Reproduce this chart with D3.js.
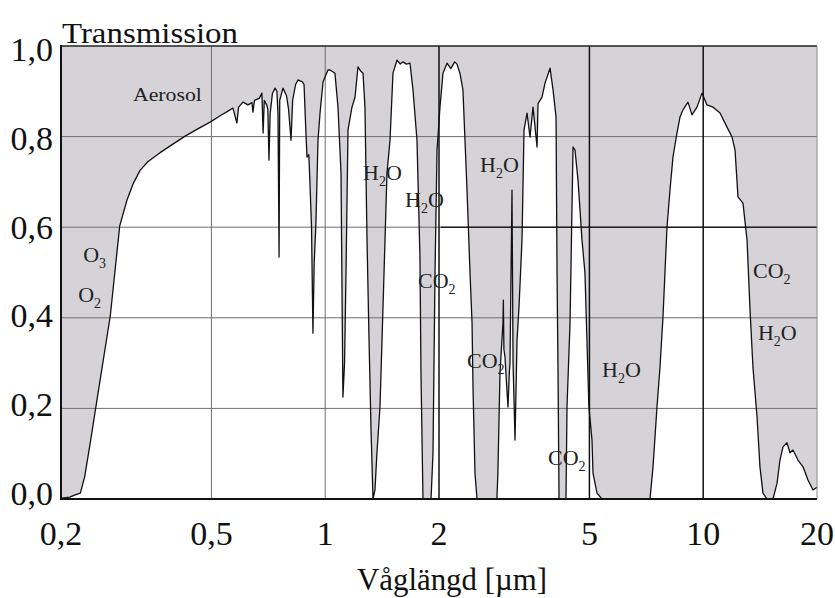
<!DOCTYPE html>
<html>
<head>
<meta charset="utf-8">
<script src="https://cdn.jsdelivr.net/npm/d3@7"></script>
<style>
  html, body { margin: 0; padding: 0; background: #ffffff; }
  svg { display: block; }
  text { font-family: "Liberation Serif", "Times New Roman", Times, serif; }
</style>
</head>
<body>
<svg id="chart" width="835" height="598"></svg>
<script>
// ---------- data ----------
const wavelength = [
  0.200, 0.201, 0.211, 0.218, 0.225, 0.231, 0.239, 0.249, 0.270, 0.286, 0.299, 0.310, 0.324, 0.340, 0.365,
  0.390, 0.426, 0.460, 0.496, 0.530,
  0.560, 0.570, 0.584, 0.590, 0.606, 0.625, 0.640, 0.644, 0.650, 0.670, 0.680, 0.685, 0.690, 0.700, 0.705,
  0.710, 0.715, 0.725, 0.737, 0.745, 0.750, 0.755, 0.758, 0.773, 0.790, 0.800, 0.812, 0.820, 0.835, 0.847,
  0.870, 0.879, 0.890, 0.895, 0.905, 0.911, 0.920, 0.928, 0.935, 0.945, 0.957, 0.969, 0.987, 1.017, 1.030,
  1.061, 1.081, 1.101, 1.114, 1.125, 1.135, 1.149, 1.177, 1.199, 1.221, 1.240, 1.259, 1.274, 1.290, 1.306,
  1.322, 1.338, 1.354, 1.370, 1.396, 1.422, 1.457, 1.484, 1.511, 1.549, 1.580, 1.606, 1.640, 1.676, 1.707,
  1.749, 1.781, 1.792, 1.814, 1.905, 1.928, 1.952, 1.976, 2.012, 2.049, 2.100, 2.150, 2.200, 2.232, 2.272,
  2.314, 2.372, 2.416, 2.446, 2.461, 2.490, 2.521, 2.846, 2.863, 2.900, 2.953, 2.960, 2.970, 2.990, 3.020,
  3.045, 3.070, 3.082, 3.120, 3.140, 3.178, 3.217, 3.256, 3.316, 3.357, 3.419, 3.482, 3.546, 3.634, 3.656,
  3.746, 3.815, 3.934, 4.006, 4.080, 4.105, 4.130, 4.155, 4.335, 4.362, 4.443, 4.525, 4.580, 4.664, 4.779,
  4.866, 4.925, 4.985, 5.079, 5.110, 5.236, 5.398, 7.232, 7.365, 7.546, 7.685, 7.827, 8.020, 8.168, 8.318,
  8.524, 8.681, 8.840, 9.114, 9.339, 9.627, 9.926, 10.23, 10.62, 11.08, 11.56, 11.92, 12.14, 12.36, 12.74,
  13.06, 13.30, 13.54, 13.88, 14.13, 14.39, 14.75, 15.30, 15.68, 15.96, 16.26, 16.66, 16.97, 17.28, 17.81,
  18.37, 18.93, 19.52, 20.00
];
const transmission = [
  0.000, 0.002, 0.004, 0.009, 0.013, 0.049, 0.124, 0.219, 0.404, 0.603, 0.660, 0.695, 0.726, 0.745, 0.764,
  0.780, 0.801, 0.817, 0.832, 0.847,
  0.859, 0.863, 0.830, 0.865, 0.876, 0.870, 0.875, 0.854, 0.880, 0.885, 0.896, 0.808, 0.880, 0.870, 0.860,
  0.748, 0.850, 0.895, 0.907, 0.900, 0.850, 0.534, 0.880, 0.907, 0.890, 0.860, 0.792, 0.880, 0.915, 0.925,
  0.921, 0.915, 0.800, 0.755, 0.760, 0.700, 0.600, 0.366, 0.520, 0.609, 0.792, 0.852, 0.921, 0.947, 0.947,
  0.940, 0.865, 0.720, 0.225, 0.300, 0.499, 0.815, 0.865, 0.887, 0.954, 0.945, 0.940, 0.865, 0.572, 0.351,
  0.152, 0.000, 0.020, 0.100, 0.203, 0.424, 0.720, 0.792, 0.940, 0.969, 0.960, 0.965, 0.960, 0.962, 0.903,
  0.792, 0.534, 0.278, 0.000, 0.000, 0.100, 0.499, 0.770, 0.865, 0.940, 0.962, 0.950, 0.965, 0.960, 0.940,
  0.903, 0.682, 0.499, 0.389, 0.241, 0.057, 0.000, 0.000, 0.057, 0.278, 0.389, 0.439, 0.330, 0.313, 0.250,
  0.203, 0.280, 0.300, 0.682, 0.300, 0.130, 0.351, 0.424, 0.572, 0.815, 0.852, 0.799, 0.865, 0.777, 0.873,
  0.887, 0.918, 0.951, 0.903, 0.843, 0.499, 0.278, 0.000, 0.000, 0.203, 0.389, 0.777, 0.770, 0.704, 0.572,
  0.499, 0.351, 0.203, 0.130, 0.057, 0.013, 0.000, 0.000, 0.071, 0.203, 0.291, 0.402, 0.600, 0.682, 0.755,
  0.808, 0.843, 0.859, 0.876, 0.848, 0.865, 0.896, 0.870, 0.865, 0.852, 0.821, 0.799, 0.770, 0.667, 0.653,
  0.572, 0.417, 0.291, 0.181, 0.071, 0.013, 0.000, 0.000, 0.035, 0.086, 0.115, 0.124, 0.102, 0.108, 0.086,
  0.071, 0.042, 0.020, 0.026
];
const xTicks = [0.2, 0.5, 1, 2, 5, 10, 20];
const yTicks = [0, 0.2, 0.4, 0.6, 0.8, 1.0];
const gasNames = ["Aerosol", "O3", "O2", "H2O", "H2O", "H2O", "CO2", "CO2", "CO2", "H2O", "CO2", "H2O"];
const gasWavelength = [0.310, 0.229, 0.222, 1.259, 1.626, 2.568, 1.760, 2.372, 3.886, 5.398, 13.54, 13.96];
const gasTransmission = [0.879, 0.523, 0.435, 0.704, 0.645, 0.722, 0.466, 0.289, 0.075, 0.269, 0.488, 0.351];
const titleText = "Transmission";
const xLabelText = "Våglängd [µm]";

// ---------- layout ----------
const svg = d3.select("#chart");
const mLeft = 61, mRight = 817, mTop = 46, mBottom = 499;
const x = d3.scaleLog().domain([0.2, 20]).range([mLeft, mRight]);
const y = d3.scaleLinear().domain([0, 1]).range([mBottom, mTop]);
// tick labels of the original sit on a slightly compressed scale
const yLab = d3.scaleLinear().domain([0, 1]).range([505, 61]);
const comma = d => d3.format(".1f")(d).replace(".", ",");
const xFmt = d => (d < 1 ? comma(d) : String(d));

const pts = wavelength.map((w, i) => [w, transmission[i]]);

// gray background of plot (absorbed part)
svg.append("rect")
  .attr("x", mLeft).attr("y", y(1))
  .attr("width", mRight - mLeft).attr("height", mBottom - y(1))
  .attr("fill", "#d5d3d8");

// white transmitted area
const area = d3.area().x(d => x(d[0])).y0(y(0)).y1(d => y(d[1]));
svg.append("path").datum(pts).attr("d", area).attr("fill", "#ffffff");

// grid lines
const gridY = svg.append("g");
gridY.selectAll("line").data(yTicks.filter(v => v > 0 && v < 1)).join("line")
  .attr("x1", mLeft).attr("x2", mRight)
  .attr("y1", d => y(d)).attr("y2", d => y(d))
  .attr("stroke", "#6e6e6e").attr("stroke-width", 1);
// darker part of the 0.6 line
svg.append("line")
  .attr("x1", x(2.02)).attr("x2", mRight)
  .attr("y1", y(0.6)).attr("y2", y(0.6))
  .attr("stroke", "#222").attr("stroke-width", 1.6);

const gridX = svg.append("g");
gridX.selectAll("line").data(xTicks.filter(v => v > 0.2 && v < 20)).join("line")
  .attr("x1", d => x(d)).attr("x2", d => x(d))
  .attr("y1", y(1)).attr("y2", y(0))
  .attr("stroke", d => d >= 2 ? "#111" : "#6e6e6e")
  .attr("stroke-width", d => d >= 2 ? 1.5 : 1);

// the curve
const line = d3.line().x(d => x(d[0])).y(d => y(d[1]));
svg.append("path").datum(pts).attr("d", line)
  .attr("fill", "none").attr("stroke", "#111").attr("stroke-width", 1.3)
  .attr("stroke-linejoin", "round");

// frame
svg.append("line").attr("x1", mLeft).attr("x2", mRight).attr("y1", y(1)).attr("y2", y(1))
  .attr("stroke", "#222").attr("stroke-width", 1.5);
svg.append("line").attr("x1", mRight).attr("x2", mRight).attr("y1", y(1)).attr("y2", y(0))
  .attr("stroke", "#888").attr("stroke-width", 1);
svg.append("line").attr("x1", mLeft).attr("x2", mLeft).attr("y1", y(1) - 1).attr("y2", y(0) + 1)
  .attr("stroke", "#111").attr("stroke-width", 2);
svg.append("line").attr("x1", mLeft).attr("x2", mRight).attr("y1", y(0)).attr("y2", y(0))
  .attr("stroke", "#111").attr("stroke-width", 2);

// y tick labels
svg.append("g").selectAll("text").data(yTicks).join("text")
  .attr("x", mLeft - 8).attr("y", d => yLab(d))
  .attr("text-anchor", "end")
  .attr("font-size", 34).attr("fill", "#111")
  .text(d => comma(d));

// x tick labels
svg.append("g").selectAll("text").data(xTicks).join("text")
  .attr("x", d => x(d)).attr("y", 545)
  .attr("text-anchor", "middle")
  .attr("font-size", 34).attr("fill", "#111")
  .text(xFmt);

// title and axis label
svg.append("text").attr("x", mLeft + 1).attr("y", 43)
  .attr("font-size", 30).attr("fill", "#111")
  .attr("textLength", 176).attr("lengthAdjust", "spacingAndGlyphs")
  .text(titleText);
svg.append("text").attr("x", 452).attr("y", 590)
  .attr("text-anchor", "middle")
  .attr("font-size", 31).attr("fill", "#111")
  .attr("textLength", 190).attr("lengthAdjust", "spacingAndGlyphs")
  .text(xLabelText);

// gas annotations
const ann = svg.append("g").attr("fill", "#222");
gasNames.forEach((name, i) => {
  const t = ann.append("text")
    .attr("x", x(gasWavelength[i])).attr("y", y(gasTransmission[i]))
    .attr("font-size", name === "Aerosol" ? 18 : 22);
  if (name === "Aerosol") {
    t.attr("textLength", 69).attr("lengthAdjust", "spacingAndGlyphs").text(name);
  } else {
    const m = name.match(/^([A-Z]+)(\d)(.*)$/);
    t.append("tspan").text(m[1]);
    t.append("tspan").attr("font-size", 14).attr("dy", 6).text(m[2]);
    if (m[3]) t.append("tspan").attr("dy", -6).text(m[3]);
  }
});
</script>
</body>
</html>
